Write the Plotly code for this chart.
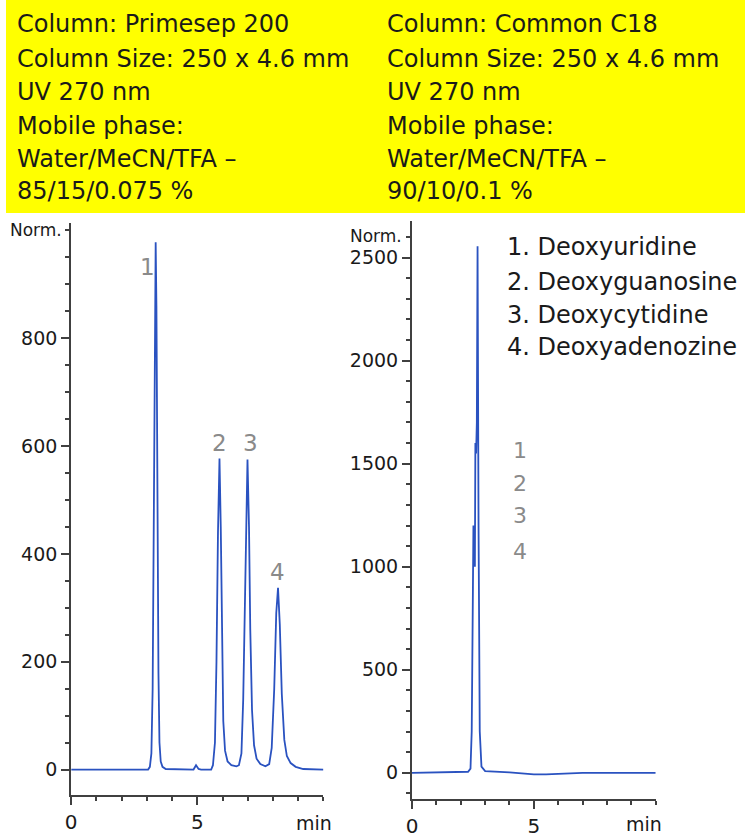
import plotly.graph_objects as go

# ---------------- data ----------------
left_time = [0.0, 3.05, 3.12, 3.18, 3.23, 3.28, 3.32, 3.35, 3.38, 3.42, 3.46, 3.5, 3.55,
             3.62, 3.75, 4.85, 4.95, 5.05, 5.15,
             5.55, 5.62, 5.7, 5.76, 5.82, 5.88, 5.93, 5.98, 6.03, 6.1, 6.2, 6.35, 6.55,
             6.65, 6.75, 6.82, 6.9, 6.99, 7.05, 7.1, 7.17, 7.25, 7.35, 7.5, 7.7,
             7.85, 7.95, 8.05, 8.13, 8.2, 8.27, 8.35, 8.45, 8.55, 8.7, 8.9, 9.2, 10.0]
left_signal = [0, 0, 5, 30, 150, 480, 850, 978, 860, 500, 180, 50, 15,
               5, 1, 0, 8, 1, 0,
               0, 8, 50, 200, 440, 577, 450, 220, 90, 35, 15, 8, 6,
               8, 30, 130, 380, 575, 450, 260, 110, 45, 20, 10, 6,
               10, 40, 150, 290, 337, 270, 140, 55, 25, 12, 5, 1, 0]

right_time = [0.0, 1.0, 2.3, 2.4, 2.45, 2.5, 2.52, 2.55, 2.58, 2.6, 2.63, 2.66,
              2.69, 2.73, 2.78, 2.85, 3.0, 4.0, 5.0, 5.5, 6.5, 7.0, 10.0]
right_signal = [0, 2, 5, 20, 200, 900, 1200, 1050, 1000, 1600, 1550, 1700,
                2555, 1200, 200, 30, 8, 2, -8, -8, -2, 0, 0]

left_info = ["Column: Primesep 200", "Column Size: 250 x 4.6 mm", "UV 270 nm",
             "Mobile phase:", "Water/MeCN/TFA \u2013", "85/15/0.075 %"]
right_info = ["Column: Common C18", "Column Size: 250 x 4.6 mm", "UV 270 nm",
              "Mobile phase:", "Water/MeCN/TFA \u2013", "90/10/0.1 %"]
compounds = ["1. Deoxyuridine", "2. Deoxyguanosine", "3. Deoxycytidine", "4. Deoxyadenozine"]
peak_labels = ["1", "2", "3", "4"]

left_yticks = [0, 200, 400, 600, 800]
right_yticks = [0, 500, 1000, 1500, 2000, 2500]
x_ticks = [0, 5]

# ---------------- figure ----------------
W, H = 745, 838
def py(p):  # pixel y (from top) -> paper
    return (H - p) / H
def px(p):
    return p / W

LINE = "#2a52c0"
AX = "#404040"
TXT = "#1a1a1a"
GRAY = "#8a8a8a"
FONT = "DejaVu Sans"

fig = go.Figure()
fig.add_trace(go.Scatter(x=left_time, y=left_signal, mode="lines",
                         line=dict(color=LINE, width=1.8), xaxis="x", yaxis="y",
                         showlegend=False, hoverinfo="skip"))
fig.add_trace(go.Scatter(x=right_time, y=right_signal, mode="lines",
                         line=dict(color=LINE, width=1.8), xaxis="x2", yaxis="y2",
                         showlegend=False, hoverinfo="skip"))

common_x = dict(showline=True, linecolor=AX, linewidth=2, ticks="outside", ticklen=8,
                tickwidth=1.5, tickcolor=AX, showgrid=False, zeroline=False,
                tickvals=x_ticks, tickfont=dict(family=FONT, size=20, color=TXT),
                minor=dict(ticks="outside", ticklen=4, dtick=1, tickcolor=AX, tickwidth=1.5),
                range=[0, 10], fixedrange=True)
common_y = dict(showline=True, linecolor=AX, linewidth=2, ticks="outside", ticklen=8,
                tickwidth=1.5, tickcolor=AX, showgrid=False, zeroline=False,
                tickfont=dict(family=FONT, size=19, color=TXT), ticklabelstandoff=0,
                fixedrange=True)

fig.update_layout(
    width=W, height=H, margin=dict(l=0, r=0, t=0, b=0),
    paper_bgcolor="white", plot_bgcolor="white",
    xaxis=dict(domain=[px(65.7), px(320)], anchor="y", **common_x),
    yaxis=dict(domain=[py(799), py(224)], anchor="x", range=[-47.6, 1014],
               tickvals=left_yticks,
               minor=dict(ticks="outside", ticklen=4, dtick=50, tickcolor=AX, tickwidth=1.5),
               **common_y),
    xaxis2=dict(domain=[px(409.3), px(655)], anchor="y2", **common_x),
    yaxis2=dict(domain=[py(803), py(222)], anchor="x2", range=[-128, 2678],
                tickvals=right_yticks,
                minor=dict(ticks="outside", ticklen=4, dtick=100, tickcolor=AX, tickwidth=1.5),
                **common_y),
)

# yellow info box
fig.add_shape(type="rect", xref="paper", yref="paper", x0=0, x1=1, y0=py(214), y1=1,
              fillcolor="#ffff00", line=dict(width=0), layer="below")

anns = []
line_centers = [24, 59, 92, 127, 160, 192]
for i, yc in enumerate(line_centers):
    anns.append(dict(text=left_info[i], x=px(9), y=py(yc), xref="paper", yref="paper",
                     xanchor="left", yanchor="middle", showarrow=False,
                     font=dict(family=FONT, size=24, color=TXT)))
    anns.append(dict(text=right_info[i], x=px(382), y=py(yc), xref="paper", yref="paper",
                     xanchor="left", yanchor="middle", showarrow=False,
                     font=dict(family=FONT, size=24, color=TXT)))

for i, yc in enumerate([248, 283, 317, 349]):
    anns.append(dict(text=compounds[i], x=px(503), y=py(yc), xref="paper", yref="paper",
                     xanchor="left", yanchor="middle", showarrow=False,
                     font=dict(family=FONT, size=24, color=TXT)))

# Norm. labels
anns.append(dict(text="Norm.", x=px(58), y=py(231), xref="paper", yref="paper",
                 xanchor="right", yanchor="middle", showarrow=False,
                 font=dict(family=FONT, size=17, color=TXT)))
anns.append(dict(text="Norm.", x=px(401), y=py(237), xref="paper", yref="paper",
                 xanchor="right", yanchor="middle", showarrow=False,
                 font=dict(family=FONT, size=17, color=TXT)))
# min labels
anns.append(dict(text="min", x=px(310), y=py(827), xref="paper", yref="paper",
                 xanchor="center", yanchor="middle", showarrow=False,
                 font=dict(family=FONT, size=19, color=TXT)))
anns.append(dict(text="min", x=px(643), y=py(828), xref="paper", yref="paper",
                 xanchor="center", yanchor="middle", showarrow=False,
                 font=dict(family=FONT, size=19, color=TXT)))

# peak labels left (data coords)
left_lab_pos = [(3.04, 933), (5.88, 606), (7.1, 606), (8.16, 366)]
for lab, (xx, yy) in zip(peak_labels, left_lab_pos):
    anns.append(dict(text=lab, x=xx, y=yy, xref="x", yref="y", showarrow=False,
                     xanchor="center", yanchor="middle",
                     font=dict(family=FONT, size=23, color=GRAY)))
right_lab_pos = [(4.45, 1564), (4.45, 1404), (4.45, 1250), (4.45, 1076)]
for lab, (xx, yy) in zip(peak_labels, right_lab_pos):
    anns.append(dict(text=lab, x=xx, y=yy, xref="x2", yref="y2", showarrow=False,
                     xanchor="center", yanchor="middle",
                     font=dict(family=FONT, size=22, color=GRAY)))

fig.update_layout(annotations=anns)
fig.write_html("out.html", config={"displayModeBar": False},
               post_script="document.body.style.margin='0';document.body.style.overflow='hidden';")
